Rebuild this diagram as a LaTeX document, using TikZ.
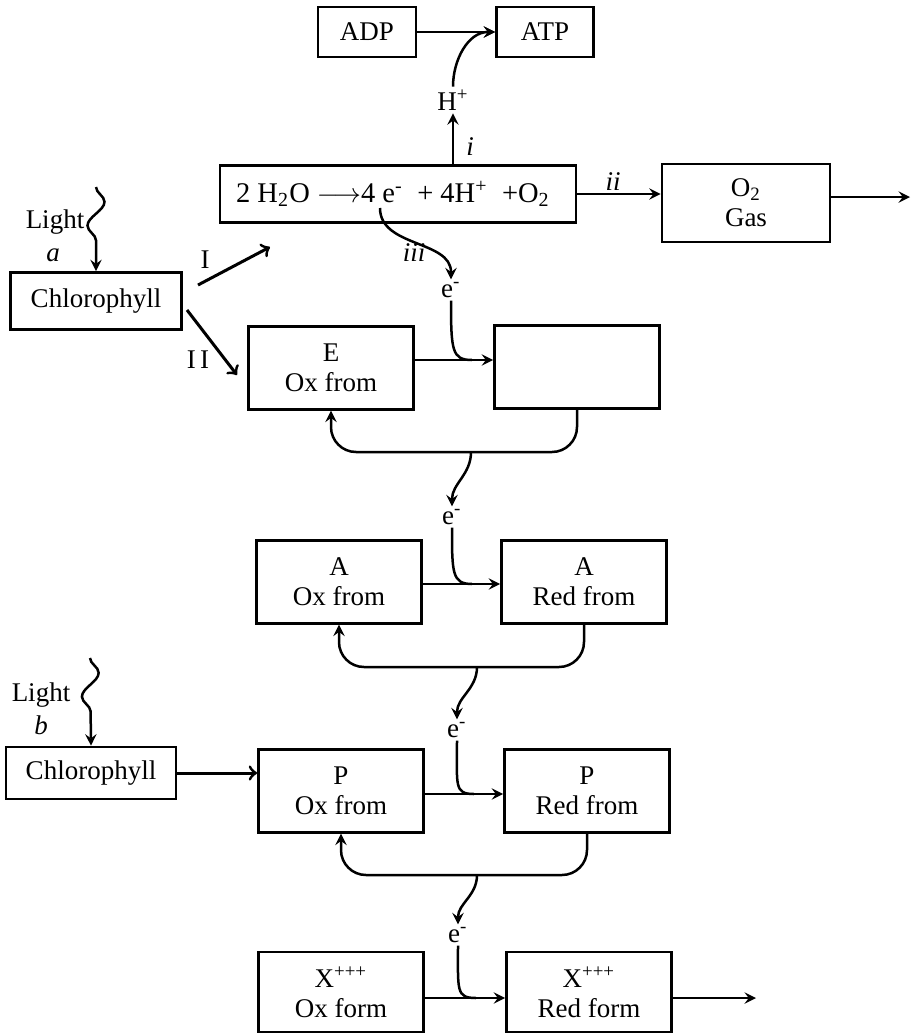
\documentclass[tikz,border=0pt]{standalone}
\usepackage{fontspec}
\setmainfont{Liberation Serif}
\usetikzlibrary{arrows}
\usetikzlibrary{decorations.pathmorphing}

\begin{document}
\begin{tikzpicture}[x=0.4pt,y=-0.4pt]
            \tikzstyle{box}=[draw=black,line width=1.1pt,inner sep=0pt,align=center,font=\fontsize{10.8}{12}\selectfont]
            \tikzstyle{cell}=[box,minimum width=66pt,minimum height=33pt]
            \tikzstyle{lbl}=[inner sep=1pt,font=\fontsize{10.8}{12}\selectfont]
            \tikzstyle{ilbl}=[inner sep=1pt,font=\fontsize{10.8}{12}\selectfont\itshape]
            \tikzstyle{edge}=[draw=black,line width=1pt,-stealth]
            \tikzstyle{barb}=[draw=black,line width=1.2pt,->]
            \tikzstyle{wire}=[draw=black,line width=1pt]
            \tikzstyle{wave}=[draw=black,line width=1pt,-stealth,decorate,
                decoration={snake,amplitude=3.4pt,segment length=19pt,post length=6pt}]

            \useasboundingbox (0,0) rectangle (912,1034);

            \node[box,minimum width=39.2pt,minimum height=20pt] (adp) at (367,32) {ADP};
            \node[box,minimum width=38.8pt,minimum height=20pt] (atp) at (545,32) {ATP};
            \node[lbl] (hp) at (453,100) {H\textsuperscript{+}};
            \node[box,minimum width=142.4pt,minimum height=22.8pt,font=\fontsize{11.4}{13}\selectfont] (eq) at (398,194)
                {2 H\textsubscript{2}O $\longrightarrow$4 e\textsuperscript{-} \ + 4H\textsuperscript{+} \ +O\textsubscript{2}\hspace{4pt}};
            \node[box,minimum width=67.2pt,minimum height=31.2pt] (o2) at (746,203) {O\textsubscript{2}\\Gas};

            \node[box,minimum width=68.4pt,minimum height=22.8pt] (chla) at (96,301) {Chlorophyll};
            \node[lbl] (la) at (55,222) {Light};
            \node[ilbl] (ta) at (53,255) {a};

            \node[cell] (e1) at (331,368) {E\\Ox from};
            \node[cell] (e2) at (577,367) {};
            \node[cell] (a1) at (339,582) {A\\Ox from};
            \node[cell] (a2) at (584,582) {A\\Red from};

            \node[box,minimum width=68pt,minimum height=20.8pt] (chlb) at (91,773) {Chlorophyll};
            \node[lbl] (lb) at (41,695) {Light};
            \node[ilbl] (tb) at (41,725) {b};

            \node[cell] (p1) at (341,791) {P\\Ox from};
            \node[cell] (p2) at (587,791) {P\\Red from};
            \node[cell,minimum height=32pt] (x1) at (341,992) {X\textsuperscript{+++}\\Ox form};
            \node[cell,minimum height=32pt] (x2) at (589,992) {X\textsuperscript{+++}\\Red form};

            % electrons
            \node[lbl] (em1) at (451,290) {e\textsuperscript{-}};
            \node[lbl] (em2) at (452,517) {e\textsuperscript{-}};
            \node[lbl] (em3) at (457,730) {e\textsuperscript{-}};
            \node[lbl] (em4) at (458,935) {e\textsuperscript{-}};

            % arrow labels
            \node[ilbl] (li) at (470,147) {i};
            \node[ilbl] (lii) at (613,182) {ii};
            \node[ilbl] (liii) at (414,253) {iii};
            \node[lbl] (lI) at (205,260) {I};
            \node[lbl] (lII) at (198,360) {I\,I};

            \coordinate (wa) at (96,187);
            \coordinate (wb) at (90,658);
            \coordinate (iiis) at (380,208);
            \coordinate (o2out) at (910,197);
            \coordinate (xout) at (756,998);
            \coordinate (i1s) at (198,285);
            \coordinate (i1e) at (270,247);
            \coordinate (i2s) at (187,310);
            \coordinate (i2e) at (237,375);
            \coordinate (j1) at (472,360);
            \coordinate (j2) at (472,584);
            \coordinate (j3) at (474,794);
            \coordinate (j4) at (476,998);
            \coordinate (m1) at (471,452);
            \coordinate (m2) at (477,667);
            \coordinate (m3) at (477,875);

            \path[edge] (adp) -- (atp);
            \path[edge] (hp |- eq.north) -- (hp.south);
            \path[edge] (hp.north) to[out=90,in=180] (atp.west);
            \path[edge] (eq.east) -- (eq.east -| o2.west);
            \path[edge] (o2.east |- o2out) -- (o2out);

            \path[wave] (wa) -- (chla.north);
            \path[barb] (i1s) -- (i1e);
            \path[barb] (i2s) -- (i2e);

            \path[edge] (iiis) to[out=-90,in=90] (em1.north);
            \path[wire] (em1.south) .. controls +(0,50) and +(-20,0) .. (j1);
            \path[edge] (e1.east |- j1) -- (e2.west |- j1);
            \path[edge,rounded corners=10pt] (e2.south) |- (m1) -| (e1.south);

            \path[edge] (m1) to[out=-90,in=90] (em2.north);
            \path[wire] (em2.south) .. controls +(0,45) and +(-20,0) .. (j2);
            \path[edge] (a1.east |- j2) -- (a2.west |- j2);
            \path[edge,rounded corners=10pt] (a2.south) |- (m2) -| (a1.south);

            \path[wave] (wb) -- (chlb.north);
            \path[barb] (chlb.east) -- (chlb.east -| p1.west);

            \path[edge] (m2) to[out=-90,in=90] (em3.north);
            \path[wire] (em3.south) .. controls +(0,45) and +(-20,0) .. (j3);
            \path[edge] (p1.east |- j3) -- (p2.west |- j3);
            \path[edge,rounded corners=10pt] (p2.south) |- (m3) -| (p1.south);

            \path[edge] (m3) to[out=-90,in=90] (em4.north);
            \path[wire] (em4.south) .. controls +(0,45) and +(-20,0) .. (j4);
            \path[edge] (x1.east |- j4) -- (x2.west |- j4);
            \path[edge] (x2.east |- xout) -- (xout);
        \end{tikzpicture}
\end{document}
